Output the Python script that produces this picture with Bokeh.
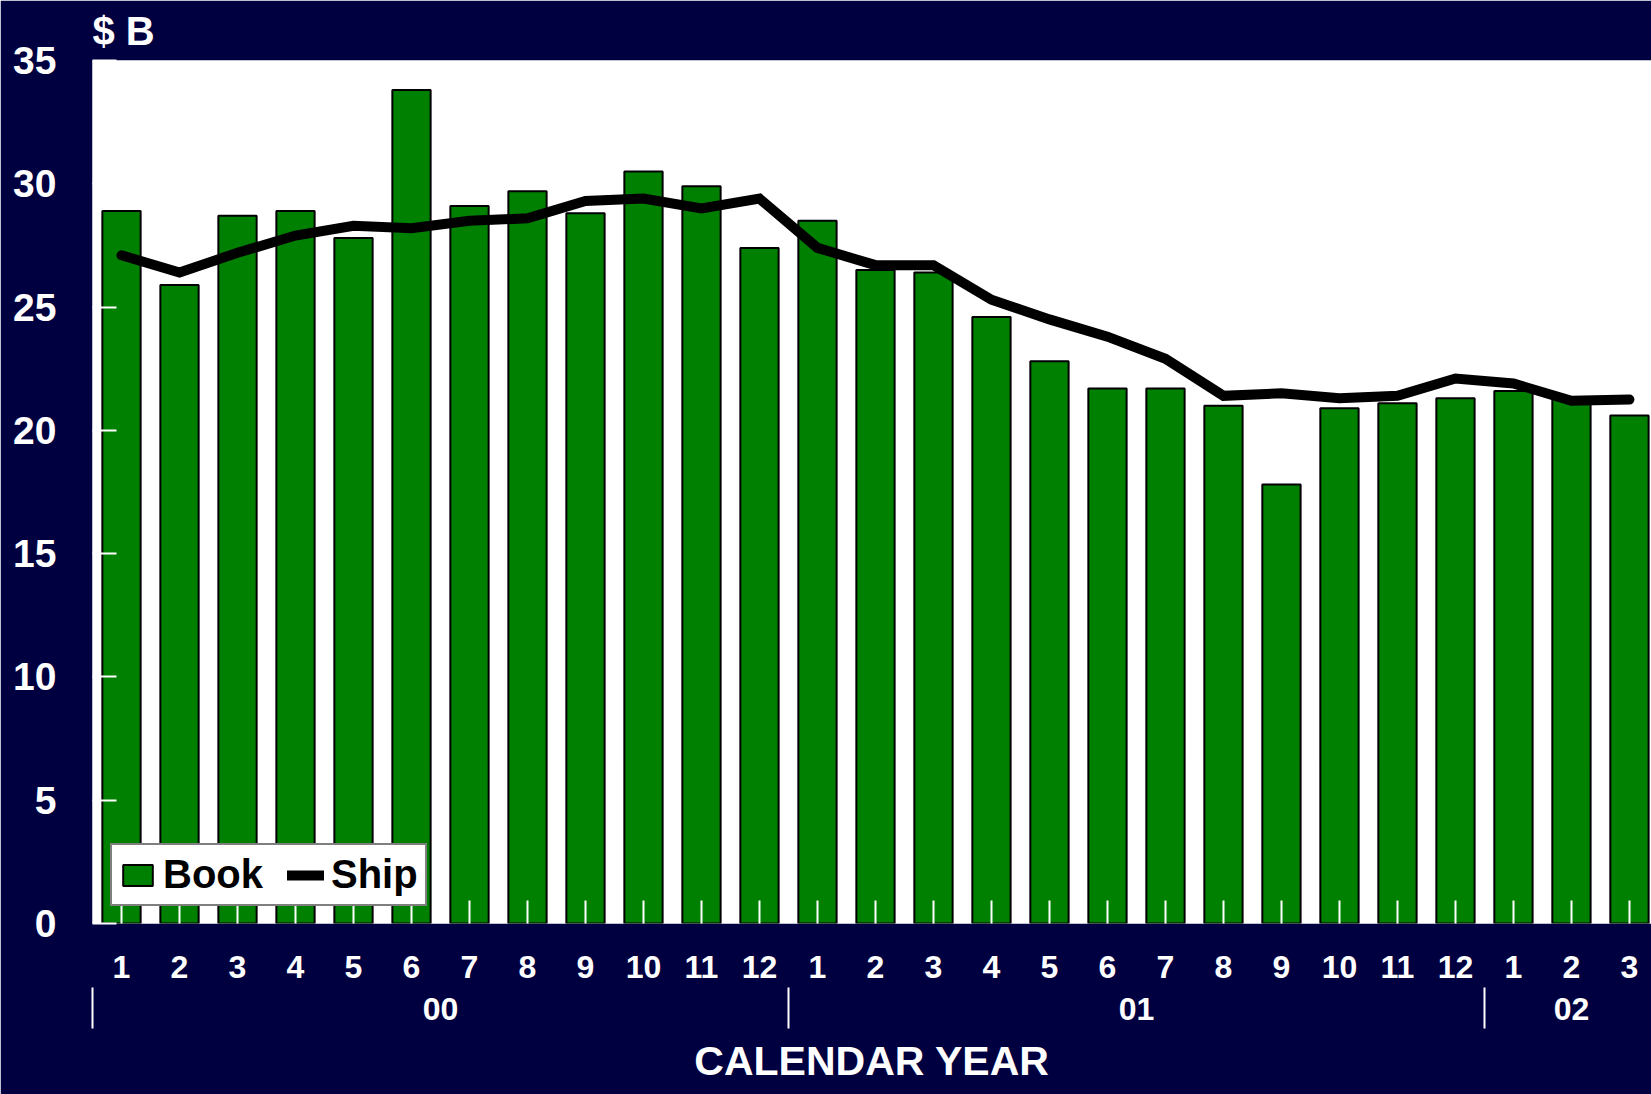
from bokeh.plotting import figure
from bokeh.models import (FixedTicker, LinearAxis, Range1d, Legend, LegendItem,
                          ColumnDataSource, Title)
from bokeh.embed import file_html
from bokeh.resources import INLINE

# ---- data -------------------------------------------------------------
month_labels = ["1", "2", "3", "4", "5", "6", "7", "8", "9", "10", "11", "12",
                "1", "2", "3", "4", "5", "6", "7", "8", "9", "10", "11", "12",
                "1", "2", "3"]
year_labels = ["00", "01", "02"]
months_per_year = [12, 12, 3]
book = [28.9, 25.9, 28.7, 28.9, 27.8, 33.8, 29.1, 29.7, 28.8, 30.5, 29.9, 27.4,
        28.5, 26.5, 26.4, 24.6, 22.8, 21.7, 21.7, 21.0, 17.8, 20.9, 21.1, 21.3,
        21.6, 21.3, 20.6]
ship = [27.1, 26.4, 27.2, 27.9, 28.3, 28.2, 28.5, 28.6, 29.3, 29.4, 29.0, 29.4,
        27.4, 26.7, 26.7, 25.3, 24.5, 23.8, 22.9, 21.4, 21.5, 21.3, 21.4, 22.1,
        21.9, 21.2, 21.25]
y_ticks = [0, 5, 10, 15, 20, 25, 30, 35]
unit_text = "$ B"
x_title = "CALENDAR YEAR"

# ---- style ------------------------------------------------------------
NAVY = "#000040"
GREEN = "#008000"
FONT = "Liberation Sans"
W, H = 1651, 1094
LEFT, TOP, BOTTOM = 92, 60, 171

idx = list(range(1, len(month_labels) + 1))
src = ColumnDataSource(dict(x=idx, book=book, ship=ship))

# year boundaries and centres derived from month counts
bounds = [0.5]
for n in months_per_year:
    bounds.append(bounds[-1] + n)
year_centers = [(bounds[i] + bounds[i + 1]) / 2 for i in range(len(year_labels))]
separators = bounds[:-1]

p = figure(width=W, height=H,
           x_range=Range1d(0.5, 27.38), y_range=Range1d(0, 35),
           output_backend="svg", toolbar_location=None,
           x_axis_location=None, y_axis_location=None,
           min_border_left=LEFT, min_border_right=0,
           min_border_top=TOP, min_border_bottom=BOTTOM,
           background_fill_color="white", border_fill_color=NAVY,
           outline_line_color=None)
p.xgrid.visible = False
p.ygrid.visible = False

# unit label "$ B" above the frame
p.title.text = unit_text
p.title.text_color = "white"
p.title.text_font = FONT
p.title.text_font_style = "bold"
p.title.text_font_size = "40px"
p.title.align = "left"
p.title.vertical_align = "top"
p.title.standoff = 12

bars = p.vbar(x="x", top="book", width=0.66, bottom=0, source=src,
              fill_color=GREEN, line_color="black", line_width=2)
line = p.line(x="x", y="ship", source=src, line_color="black", line_width=10,
              line_cap="round", line_join="miter")

# y axis
yax = LinearAxis(ticker=FixedTicker(ticks=y_ticks, minor_ticks=[]))
yax.axis_line_color = None
yax.major_tick_in = 24
yax.major_tick_out = 0
yax.major_tick_line_color = "white"
yax.major_tick_line_width = 2
yax.minor_tick_line_color = None
yax.major_label_standoff = 36
yax.major_label_text_font = FONT
yax.major_label_text_font_style = "bold"
yax.major_label_text_font_size = "39px"
yax.major_label_text_color = "white"
p.add_layout(yax, "left")


def text_axis(ax, size, standoff):
    ax.axis_line_color = None
    ax.minor_tick_line_color = None
    ax.major_label_standoff = standoff
    ax.major_label_text_font = FONT
    ax.major_label_text_font_style = "bold"
    ax.major_label_text_font_size = size
    ax.major_label_text_color = "white"


# month axis
xax = LinearAxis(ticker=FixedTicker(ticks=idx, minor_ticks=[]),
                 major_label_overrides={i: m for i, m in zip(idx, month_labels)})
text_axis(xax, "32px", 32)
xax.major_tick_in = 23
xax.major_tick_out = 0
xax.major_tick_line_color = "white"
xax.major_tick_line_width = 2
p.add_layout(xax, "below")

# year labels
yr = LinearAxis(ticker=FixedTicker(ticks=year_centers, minor_ticks=[]),
                major_label_overrides={c: y for c, y in zip(year_centers, year_labels)})
text_axis(yr, "32px", 17)
yr.major_tick_in = 0
yr.major_tick_out = 0
yr.major_tick_line_color = None
p.add_layout(yr, "below")

# year separators (ticks pointing up into the year label row)
sep = LinearAxis(ticker=FixedTicker(ticks=separators, minor_ticks=[]),
                 major_label_overrides={s: "" for s in separators})
text_axis(sep, "1px", 0)
sep.major_tick_in = 35
sep.major_tick_out = 6
sep.major_tick_line_color = "white"
sep.major_tick_line_width = 2
p.add_layout(sep, "below")

# x title below the year row
p.add_layout(Title(text=x_title, align="center", vertical_align="bottom",
                   standoff=15, text_font=FONT, text_font_style="bold",
                   text_font_size="41px", text_color="white"), "below")

legend = Legend(items=[LegendItem(label="Book", renderers=[bars]),
                       LegendItem(label="Ship", renderers=[line])],
                location=(18, 17), orientation="horizontal")
legend.label_text_font = FONT
legend.label_text_font_style = "bold"
legend.label_text_font_size = "40px"
legend.label_text_color = "black"
legend.glyph_width = 37
legend.glyph_height = 26
legend.label_standoff = 7
legend.spacing = 24
legend.padding = 7
legend.margin = 0
legend.border_line_color = "black"
legend.border_line_width = 2
legend.background_fill_color = "white"
legend.background_fill_alpha = 1
p.add_layout(legend)

open("out.html", "w").write(file_html(p, INLINE))
